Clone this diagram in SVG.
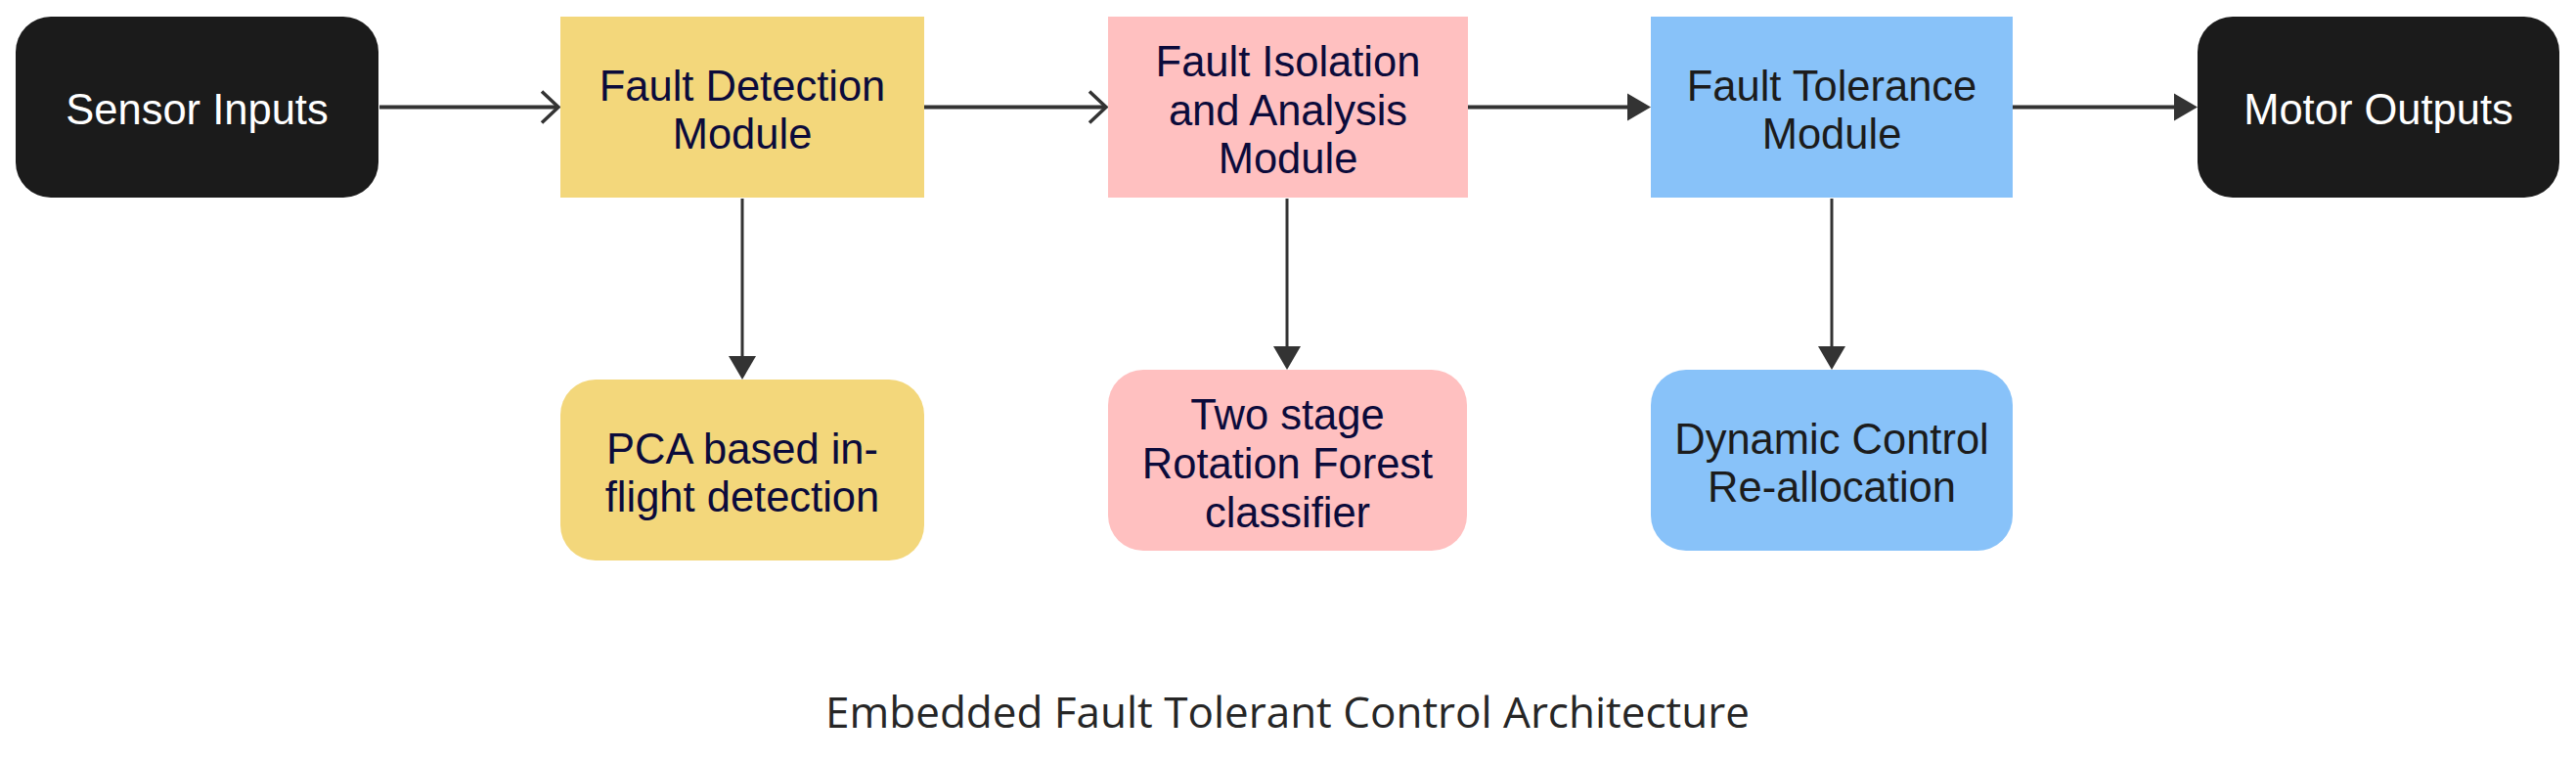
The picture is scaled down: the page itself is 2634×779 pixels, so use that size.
<svg xmlns="http://www.w3.org/2000/svg" width="2634" height="779" viewBox="0 0 2634 779">
<defs>
<style>
.lbl{font-family:"Liberation Sans",Arial,sans-serif;font-size:43.5px;text-anchor:middle}
.w{fill:#ffffff}
.n{fill:#0b0b3b}
.k{fill:#1c1c1c}
.blk{fill:#1b1b1b}
.yel{fill:#f3d77b}
.pnk{fill:#ffc0c0}
.blu{fill:#88c2f9}
.h{stroke:#333333;stroke-width:4;fill:none}
.v{stroke:#333333;stroke-width:3;fill:none}
.title{font-family:"Open Sans",sans-serif;font-size:44px;fill:#262626;text-anchor:middle}
</style>
<marker id="open" markerUnits="userSpaceOnUse" markerWidth="24" markerHeight="40" refX="18" refY="17" orient="auto" overflow="visible">
<path d="M1,1 L18,17 L1,33" fill="none" stroke="#333333" stroke-width="3.5"/>
</marker>
<marker id="fill" markerUnits="userSpaceOnUse" markerWidth="24" markerHeight="28" refX="0" refY="14" orient="auto" overflow="visible">
<path d="M0,0 L24,14 L0,28 Z" fill="#333333"/>
</marker>
</defs>
<rect width="2634" height="779" fill="#ffffff"/>
<g id="connectors">
<path class="h" d="M388,109.5 H571" marker-end="url(#open)"/>
<path class="h" d="M945,109.5 H1131" marker-end="url(#open)"/>
<path class="h" d="M1501,109.5 H1664" marker-end="url(#fill)"/>
<path class="h" d="M2058,109.5 H2223" marker-end="url(#fill)"/>
<path class="v" d="M759,203 V364" marker-end="url(#fill)"/>
<path class="v" d="M1316,203 V354" marker-end="url(#fill)"/>
<path class="v" d="M1873,203 V354" marker-end="url(#fill)"/>
</g>
<g id="sensor-inputs">
<rect class="blk" x="16" y="17" width="371" height="185" rx="36" ry="36"/>
<text class="lbl w" x="201.5" y="127">Sensor Inputs</text>
</g>
<g id="fault-detection">
<rect class="yel" x="573" y="17" width="372" height="185"/>
<text class="lbl n" x="759" y="102.5">Fault Detection<tspan x="759" dy="49">Module</tspan></text>
</g>
<g id="fault-isolation">
<rect class="pnk" x="1133" y="17" width="368" height="185"/>
<text class="lbl n" x="1317" y="78">Fault Isolation<tspan x="1317" dy="49.5">and Analysis</tspan><tspan x="1317" dy="49.5">Module</tspan></text>
</g>
<g id="fault-tolerance">
<rect class="blu" x="1688" y="17" width="370" height="185"/>
<text class="lbl k" x="1873" y="102.5">Fault Tolerance<tspan x="1873" dy="49">Module</tspan></text>
</g>
<g id="motor-outputs">
<rect class="blk" x="2247" y="17" width="370" height="185" rx="36" ry="36"/>
<text class="lbl w" x="2432" y="127">Motor Outputs</text>
</g>
<g id="pca">
<rect class="yel" x="573" y="388" width="372" height="185" rx="36" ry="36"/>
<text class="lbl n" x="759" y="474">PCA based in-<tspan x="759" dy="48.5">flight detection</tspan></text>
</g>
<g id="rotation-forest">
<rect class="pnk" x="1133" y="378" width="367" height="185" rx="36" ry="36"/>
<text class="lbl n" x="1316.5" y="439">Two stage<tspan x="1316.5" dy="50">Rotation Forest</tspan><tspan x="1316.5" dy="49.5">classifier</tspan></text>
</g>
<g id="dynamic-control">
<rect class="blu" x="1688" y="378" width="370" height="185" rx="36" ry="36"/>
<text class="lbl k" x="1873" y="464">Dynamic Control<tspan x="1873" dy="48.5">Re-allocation</tspan></text>
</g>
<text class="title" x="1316.5" y="744">Embedded Fault Tolerant Control Architecture</text>
</svg>
